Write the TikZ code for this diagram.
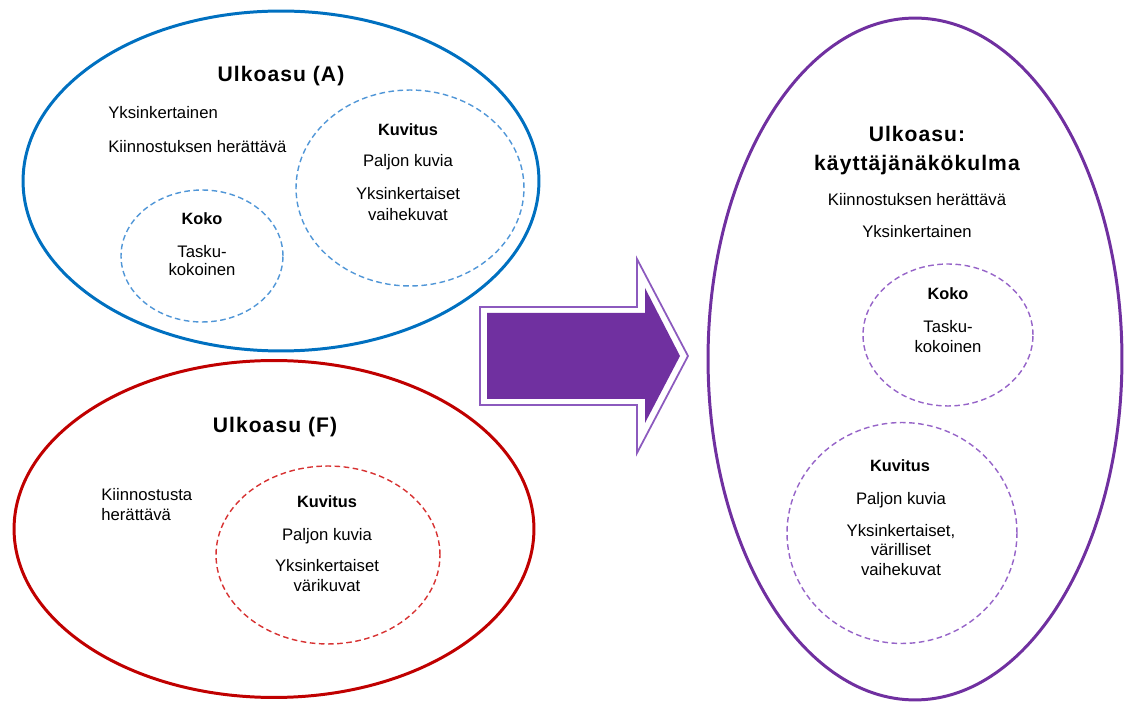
\documentclass[tikz,border=0pt]{standalone}
\usepackage{fontspec}
\setmainfont{Liberation Sans}
\newfontfamily\headfont[LetterSpace=5]{Liberation Sans}
\usetikzlibrary{positioning, shapes.geometric}
\definecolor{ablue}{RGB}{0,112,192}
\definecolor{ablueDash}{RGB}{80,150,215}
\definecolor{fred}{RGB}{192,0,0}
\definecolor{fredDash}{RGB}{215,50,50}
\definecolor{upurple}{RGB}{112,48,160}
\definecolor{upurpleDash}{RGB}{150,100,200}
\definecolor{arrowline}{RGB}{140,90,190}

\begin{document}
\begin{tikzpicture}[x=0.02cm, y=-0.02cm,
   every node/.style = {font=\fontsize{9.5}{11}\selectfont, inner sep=0pt},
       bigOval/.style = {ellipse, line width=1.7pt},
      dashOval/.style = {ellipse, line width=0.8pt, dash pattern=on 3.2pt off 2pt},
      headNode/.style = {anchor=mid, font=\headfont\bfseries\fontsize{12}{14}\selectfont},
       subNode/.style = {anchor=mid, font=\bfseries\fontsize{9.3}{11}\selectfont},
      textNode/.style = {anchor=mid},
      leftNode/.style = {anchor=mid west}
]
\useasboundingbox (0,0) rectangle (1127,702);

% Ulkoasu (A)
\node[bigOval, draw=ablue, minimum width=10.32cm, minimum height=6.8cm] (ovalA) at (281,181) {};
\node[dashOval, draw=ablueDash, minimum width=4.56cm, minimum height=3.92cm] (kuvOvalA) at (410,188) {};
\node[dashOval, draw=ablueDash, minimum width=3.24cm, minimum height=2.64cm] (kokoOvalA) at (202,256) {};

\node[headNode] (ulkoA) at (281,77) {Ulkoasu (A)};
\node[leftNode] (yksA) at (108,114) {Yksinkertainen};
\node[leftNode] (kiinA) at (108,148) {Kiinnostuksen herättävä};

\node[subNode] (kuvA) at (408,131) {Kuvitus};
\node[textNode] (paljA) at (408,162) {Paljon kuvia};
\node[textNode] (yksKA) at (408,195) {Yksinkertaiset};
\node[textNode] (vaiheA) at (408,216) {vaihekuvat};

\node[subNode] (kokoA) at (202,220) {Koko};
\node[textNode] (taskuA) at (202,253) {Tasku-};
\node[textNode] (kokoinenA) at (202,271) {kokoinen};

% Ulkoasu (F)
\node[bigOval, draw=fred, minimum width=10.4cm, minimum height=6.74cm] (ovalF) at (274,529) {};
\node[dashOval, draw=fredDash, minimum width=4.48cm, minimum height=3.56cm] (kuvOvalF) at (328,555) {};

\node[headNode] (ulkoF) at (275,428) {Ulkoasu (F)};
\node[leftNode] (kiinF) at (101,496) {Kiinnostusta};
\node[leftNode] (herF) at (101,516) {herättävä};

\node[subNode] (kuvF) at (327,503) {Kuvitus};
\node[textNode] (paljF) at (327,536) {Paljon kuvia};
\node[textNode] (yksKF) at (327,567) {Yksinkertaiset};
\node[textNode] (variF) at (327,587) {värikuvat};

% arrow
\filldraw[draw=arrowline, fill=white, line width=1pt, line join=miter]
   (480,307) -- (637,307) -- (637,259) -- (688,356) -- (637,453) -- (637,405) -- (480,405) -- cycle;
\fill[upurple]
   (487,313) -- (645,313) -- (645,288) -- (680,356) -- (645,423) -- (645,399) -- (487,399) -- cycle;

% käyttäjänäkökulma
\node[bigOval, draw=upurple, minimum width=8.28cm, minimum height=13.64cm] (ovalK) at (915,359) {};
\node[dashOval, draw=upurpleDash, minimum width=3.4cm, minimum height=2.84cm] (kokoOvalK) at (948,335) {};
\node[dashOval, draw=upurpleDash, minimum width=4.6cm, minimum height=4.42cm] (kuvOvalK) at (902,533) {};

\node[headNode] (ulkoK) at (917,137) {Ulkoasu:};
\node[headNode] (nakoK) at (917,166) {käyttäjänäkökulma};
\node[textNode] (kiinK) at (917,201) {Kiinnostuksen herättävä};
\node[textNode] (yksK) at (917,233) {Yksinkertainen};

\node[subNode] (kokoK) at (948,295) {Koko};
\node[textNode] (taskuK) at (948,328) {Tasku-};
\node[textNode] (kokoinenK) at (948,348) {kokoinen};

\node[subNode] (kuvK) at (900,467) {Kuvitus};
\node[textNode] (paljK) at (901,500) {Paljon kuvia};
\node[textNode] (yksKK) at (901,532) {Yksinkertaiset,};
\node[textNode] (variK) at (901,551) {värilliset};
\node[textNode] (vaiheK) at (901,571) {vaihekuvat};

\end{tikzpicture}
\end{document}
